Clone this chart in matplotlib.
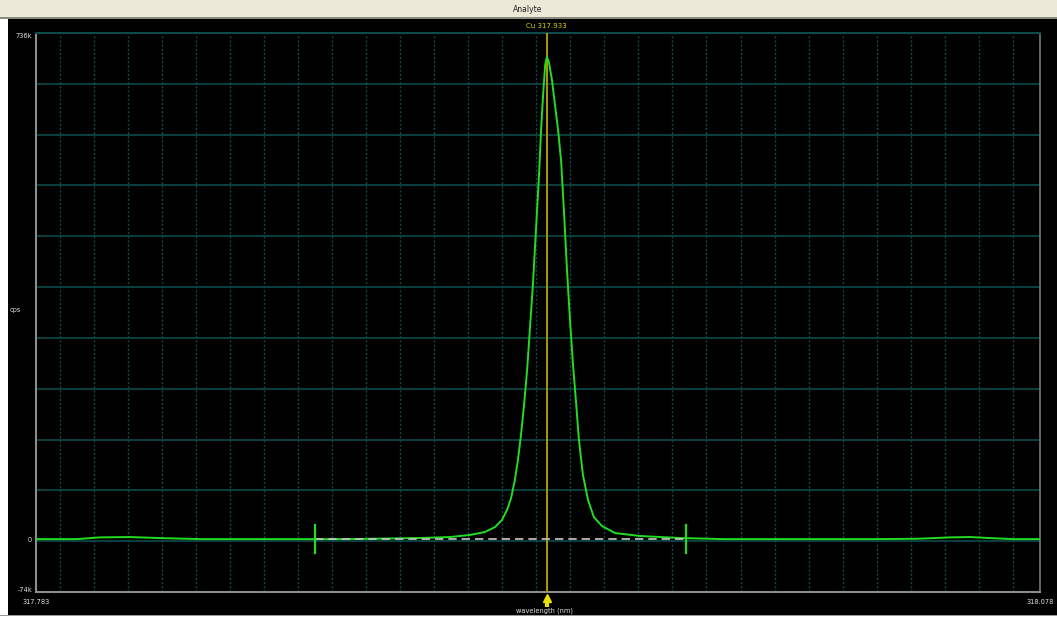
import matplotlib
matplotlib.use("Agg")
import matplotlib.pyplot as plt
from matplotlib.patches import Rectangle
import numpy as np

# Spectrum scan around the Cu 317.933 nm line
wavelength = [317.7830, 317.7950, 317.8018, 317.8106, 317.8194, 317.8312, 317.8450,
              317.8606, 317.8750, 317.8958, 317.9046, 317.9105, 317.9149, 317.9179,
              317.9199, 317.9214, 317.9226, 317.9237, 317.9246, 317.9255, 317.9264,
              317.9273, 317.9281, 317.9290, 317.9299, 317.9308, 317.9314, 317.9320,
              317.9326, 317.9331, 317.9337, 317.9346, 317.9355, 317.9364, 317.9373,
              317.9381, 317.9390, 317.9399, 317.9408, 317.9417, 317.9425, 317.9437,
              317.9452, 317.9469, 317.9493, 317.9531, 317.9605, 317.9722, 317.9850,
              318.0000, 318.0150, 318.0300, 318.0420, 318.0516, 318.0575, 318.0633,
              318.0700, 318.0780]
cps = [3000, 3000, 5500, 6000, 4500, 3000, 3000,
       3000, 3000, 4600, 6000, 9000, 13300, 20500,
       30700, 45200, 62500, 88600, 117600, 153800, 197200,
       247900, 305900, 371000, 450700, 530300, 595500, 646200,
       689700, 701200, 694000, 667900, 631700, 595500, 550000,
       480000, 395000, 320000, 255000, 200000, 148000, 96000,
       59600, 35000, 22000, 11800, 7500, 4600, 3000,
       3000, 3000, 3000, 3500, 5500, 6000, 4500,
       3000, 3000]

x_min, x_max = 317.783, 318.078
y_min, y_max = -73600, 736000
analyte_wl = 317.933
bg_left, bg_right = 317.865, 317.974
baseline_level = 2500

y_tick_labels = ["736k", "0", "-74k"]

W, H = 1057, 620
fig = plt.figure(figsize=(W / 100, H / 100), dpi=100, facecolor="black")


def fx(px):
    return px / W


def fy(py):
    return 1 - py / H


def strip(x0, y0, w, h, color, z=0):
    fig.patches.append(Rectangle((x0, y0), w, h, transform=fig.transFigure,
                                 facecolor=color, edgecolor="none", zorder=z))


# window chrome
strip(0, 0, fx(8), 1, "white")
strip(0, 0, 1, 4 / H, "white")
strip(0, 4 / H, 1, 1.5 / H, "#9a9a9a")
strip(0, fy(17), 1, 17 / H, "#ece9d8", 1)
strip(0, fy(18.5), 1, 1.5 / H, "#8a8a80", 1)
fig.text(fx(528), fy(9), "Analyte", color="#202020", fontsize=5.5,
         ha="center", va="center")

ax = fig.add_axes([fx(36), fy(592), (1040 - 36) / W, (592 - 33) / H])
ax.set_facecolor("black")
ax.set_xlim(x_min, x_max)
ax.set_ylim(y_min, y_max)

grid_col = "#0e4a4a"
for gx in np.arange(317.79, 318.0751, 0.01):
    ax.axvline(gx, color=grid_col, lw=1.0, ls=(0, (1.5, 1.5)), zorder=1)
for gy in np.arange(0, 736001, 73600):
    ax.axhline(gy, color=grid_col, lw=1.2, zorder=1)

ax.set_xticks([])
ax.set_yticks([])
for side in ["left", "bottom"]:
    ax.spines[side].set_color("#8c8c8c")
    ax.spines[side].set_linewidth(1.5)
ax.spines["top"].set_color(grid_col)
ax.spines["top"].set_linewidth(1.5)
ax.spines["right"].set_color("#6a7a7a")
ax.spines["right"].set_linewidth(1.2)

# analyte line position
ax.axvline(analyte_wl, color="#b8a400", lw=1.3, zorder=3)

# spectrum
ax.plot(wavelength, cps, color="#22dd22", lw=1.4, zorder=4)

# background correction baseline and points
ax.plot([bg_left, bg_right], [baseline_level, baseline_level], color="#c8c8c8",
        lw=1.2, ls=(0, (5, 3)), zorder=5)
for bx in (bg_left, bg_right):
    ax.plot([bx, bx], [-17000, 24000], color="#22dd22", lw=1.6, zorder=6)

# analyte marker under the axis
ax.plot([analyte_wl], [y_min - 8000], marker="^", color="#e8e000",
        markersize=6, clip_on=False, zorder=6)
ax.plot([analyte_wl, analyte_wl], [y_min - 8000, y_min - 22000], color="#e8e000",
        lw=3, clip_on=False, zorder=6, solid_capstyle="butt")

txt = dict(color="#e0e0e0", fontsize=4.8)
fig.text(fx(546), fy(25.5), "Cu 317.933", color="#e0d800", fontsize=5,
         ha="center", va="center")
fig.text(fx(32), fy(36), y_tick_labels[0], ha="right", va="center", **txt)
fig.text(fx(32), fy(540), y_tick_labels[1], ha="right", va="center", **txt)
fig.text(fx(32), fy(590), y_tick_labels[2], ha="right", va="center", **txt)
fig.text(fx(15), fy(310), "cps", ha="center", va="center", **txt)
fig.text(fx(36), fy(602), f"{x_min:.3f}", ha="center", va="center", **txt)
fig.text(fx(1040), fy(602), f"{x_max:.3f}", ha="center", va="center", **txt)
fig.text(fx(545), fy(611), "wavelength (nm)", ha="center", va="center", **txt)

fig.savefig("out.png", dpi=100, facecolor="black")
